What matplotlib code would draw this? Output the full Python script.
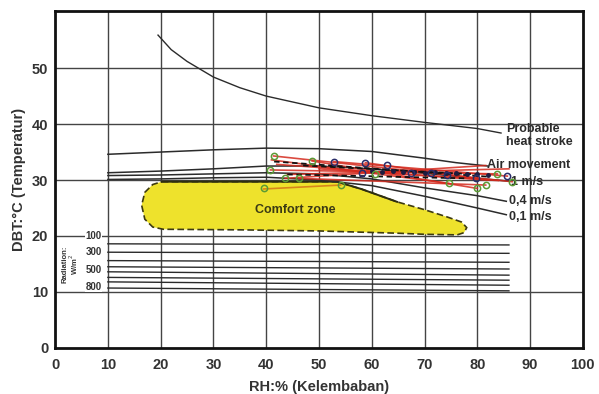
import matplotlib.pyplot as plt
from matplotlib.patches import Polygon

plt.rcParams['font.family'] = ['Liberation Sans', 'DejaVu Sans']

# --- data ---
heat_x = [19.5, 22, 25, 30, 35, 40, 50, 60, 70, 80, 84.5]
heat_y = [55.9, 53.3, 51.2, 48.4, 46.5, 45.0, 42.9, 41.5, 40.3, 39.2, 38.4]

top_x = [10, 20, 30, 40, 50, 60, 70, 76, 82]
top_y = [34.6, 35.0, 35.4, 35.7, 35.6, 35.1, 33.9, 33.1, 32.5]
v1_x = [10, 20, 30, 40, 50, 60, 70, 80, 86]
v1_y = [31.3, 31.6, 32.0, 32.5, 32.5, 32.0, 31.2, 30.3, 29.8]
v04_x = [10, 20, 30, 40, 50, 60, 70, 80, 85.5]
v04_y = [30.8, 30.9, 31.1, 31.3, 31.1, 30.2, 28.6, 27.2, 26.2]
v01_x = [10, 20, 30, 40, 50, 60, 70, 80, 85.5]
v01_y = [30.1, 30.2, 30.4, 30.5, 30.0, 29.0, 27.1, 25.0, 23.8]

comfort_x = [20.2, 30, 40, 53.4, 58, 64.8, 70, 74.3, 77, 78, 77.5, 76.2, 70,
             64.8, 50, 35, 20.5, 18.5, 17, 16.4, 17, 18.5]
comfort_y = [29.7, 29.7, 29.7, 29.7, 28.4, 26.1, 24.7, 23.4, 22.5, 21.5, 20.6,
             20.2, 20.3, 20.5, 20.9, 21.1, 21.2, 21.6, 23.0, 25.5, 27.8, 29.2]

rad_left = [18.6, 17.1, 15.6, 14.5, 13.6, 12.6, 11.8, 10.7]
rad_right = [18.4, 16.9, 15.3, 14.1, 13.0, 12.1, 11.2, 10.2]
rad_labels = ['100', '300', '500', '800']
rad_label_y = [20.0, 17.1, 14.0, 10.9]

green_x = [41.4, 40.8, 39.5, 43.6, 46.2, 48.7, 54.1, 60.7, 74.6, 80.0, 81.6, 83.8, 86.6]
green_y = [34.3, 31.8, 28.6, 30.3, 30.3, 33.4, 29.1, 31.1, 29.4, 28.5, 29.1, 31.1, 29.7]
navy_x = [52.8, 58.8, 62.9, 58.2, 67.4, 71.2, 74.3, 79.7, 85.7]
navy_y = [33.3, 33.1, 32.7, 31.3, 31.2, 31.2, 30.9, 30.3, 30.7]
dots_x = [60, 62, 64, 66, 68, 70, 72, 74, 76, 78, 80, 82]
dots_y = [31.6, 31.5, 31.6, 31.4, 31.5, 31.3, 31.4, 31.2, 31.3, 31.1, 31.0, 30.9]

red_x0 = [41.4, 40.8, 43.6, 48.7, 52.8, 46.2, 58.8, 41.0, 44.0, 42.0, 50.0]
red_y0 = [34.3, 31.8, 30.3, 33.4, 33.3, 30.3, 33.1, 33.6, 31.0, 32.8, 32.0]
red_x1 = [86.6, 83.8, 81.6, 80.0, 85.7, 81.6, 79.7, 74.6, 86.0, 82.0, 84.0]
red_y1 = [29.7, 31.1, 32.6, 28.5, 30.7, 29.1, 30.3, 29.4, 32.0, 30.0, 29.9]

dash_x0 = [41.5, 44.0, 47.0]
dash_y0 = [33.3, 31.0, 32.6]
dash_x1 = [82.0, 78.0, 80.0]
dash_y1 = [30.6, 30.3, 31.0]

x_ticks = list(range(0, 101, 10))
y_ticks = list(range(0, 51, 10))

ink = '#2b2b2b'

fig = plt.figure(figsize=(5.99, 3.94), dpi=100)
ax = fig.add_axes([0.092, 0.117, 0.881, 0.855])
ax.set_xlim(0, 100)
ax.set_ylim(0, 60.2)

# grid
for gx in x_ticks[1:-1]:
    ax.axvline(gx, color='#444444', lw=1.0, zorder=1)
for gy in y_ticks[1:]:
    ax.axhline(gy, color='#444444', lw=1.0, zorder=1)

# comfort zone
pts = list(zip(comfort_x, comfort_y))
ax.add_patch(Polygon(pts, closed=True, facecolor='#eee22c', edgecolor='#3d3a10',
                     lw=1.2, ls=(0, (4, 2)), zorder=2))
ax.plot(comfort_x[:6], comfort_y[:6], color='#2e2e10', lw=1.4, zorder=3)
ax.text(45.5, 24.6, 'Comfort zone', fontsize=9, fontweight='bold',
        color='#3b3a14', ha='center', va='center', zorder=6)

# curves
ax.plot(heat_x, heat_y, color=ink, lw=1.0, zorder=3)
for cx, cy in [(top_x, top_y), (v1_x, v1_y), (v04_x, v04_y), (v01_x, v01_y)]:
    ax.plot(cx, cy, color=ink, lw=1.1, zorder=3)

# radiation lines
for yl, yr in zip(rad_left, rad_right):
    ax.plot([10, 86], [yl, yr], color=ink, lw=1.0, zorder=3)
for lab, ly in zip(rad_labels, rad_label_y):
    ax.text(7.3, ly, lab, fontsize=7, fontweight='bold', color='#333333',
            ha='center', va='center', zorder=6,
            bbox=dict(facecolor='white', edgecolor='none', pad=0.3))
ax.text(2.9, 15.0, 'Radiation:\nW/m$^2$', rotation=90, fontsize=5.5,
        fontweight='bold', color='#333333', ha='center', va='center',
        linespacing=0.9)

# measurements
for x0, y0, x1, y1 in zip(red_x0, red_y0, red_x1, red_y1):
    ax.plot([x0, x1], [y0, y1], color='#d42a1e', lw=1.2, alpha=0.85, zorder=4)
ax.plot([39.5, 54.1], [28.4, 29.1], color='#d8861a', lw=1.2, zorder=4)
for x0, y0, x1, y1 in zip(dash_x0, dash_y0, dash_x1, dash_y1):
    ax.plot([x0, x1], [y0, y1], color='#111111', lw=1.3, ls=(0, (3, 2)), zorder=5)
ax.plot(dots_x, dots_y, 'o', ms=2.5, color='#1c1c40', zorder=5)
ax.plot(navy_x, navy_y, 'o', ms=4.5, mfc='none', mec='#2a2d6a', mew=1.1, zorder=5)
ax.plot(green_x, green_y, 'o', ms=4.5, mfc='none', mec='#5b9a35', mew=1.1, zorder=5)

# labels on the right
lab_kw = dict(fontsize=9, fontweight='bold', color=ink, ha='left', va='center')
ax.text(85.5, 37.9, 'Probable\nheat stroke', linespacing=1.1, **lab_kw)
ax.text(81.8, 32.7, 'Air movement', **lab_kw)
ax.text(86.3, 29.6, '1 m/s', **lab_kw)
ax.text(86.0, 26.2, '0,4 m/s', **lab_kw)
ax.text(86.0, 23.4, '0,1 m/s', **lab_kw)

ax.set_xticks(x_ticks)
ax.set_yticks(y_ticks)
ax.tick_params(length=0, labelsize=10.5, labelcolor='#333333')
ax.tick_params(axis='x', pad=7)
ax.tick_params(axis='y', pad=5)
for lab in ax.get_xticklabels() + ax.get_yticklabels():
    lab.set_fontweight('bold')
for s in ax.spines.values():
    s.set_linewidth(2.0)
    s.set_color('#111111')
ax.set_xlabel('RH:% (Kelembaban)', fontsize=10.5, fontweight='bold',
              color='#333333', labelpad=6)
ax.set_ylabel('DBT:°C (Temperatur)', fontsize=10.5, fontweight='bold',
              color='#333333')

fig.savefig('out.png', dpi=100)
